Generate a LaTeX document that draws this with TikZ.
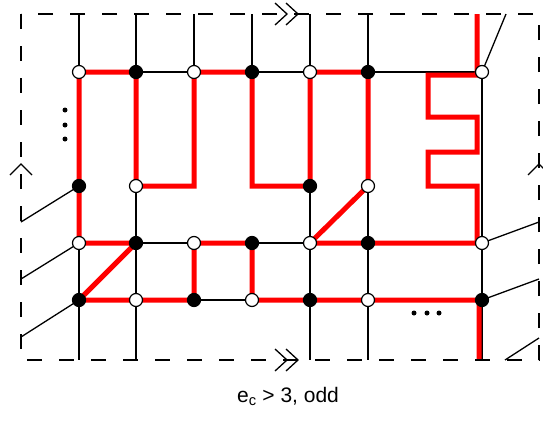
\documentclass[tikz,border=0pt]{standalone}
\usepackage{fontspec}
\setmainfont{Liberation Sans}
\usetikzlibrary{arrows.meta}
\pgfdeclarelayer{grid}
\pgfdeclarelayer{cycle}
\pgfsetlayers{grid,cycle,main}

\tikzset{
  blk/.style={circle, draw=black, fill=black, line width=1.2pt, inner sep=0pt, minimum size=13pt},
  wht/.style={blk, fill=white},
  ham/.style={red, line width=5pt, line join=miter},
  edge/.style={line width=1.3pt},
  frame/.style={dash pattern=on 15pt off 17pt}
}

\begin{document}
\begin{tikzpicture}[x=1pt, y=-1pt, line width=1.3pt]
  \useasboundingbox (0,0) rectangle (543,421);
  % toro (borde identificado)
  \draw[frame] (21,14) rectangle (539,360);
  \coordinate (top) at (0,14);
  \coordinate (bot) at (0,360);
  \draw (10,175) -- (21,164) -- (32,175);
  \draw (528,175) -- (539,164) -- (550,175);
  \draw (275,3) -- (287,14) -- (275,25);
  \draw (286,3) -- (298,14) -- (286,25);
  \draw (275,349) -- (287,360) -- (275,371);
  \draw (286,349) -- (298,360) -- (286,371);
  % vertices
  \foreach \c/\x/\sa/\sb in {1/79/wht/blk, 2/136/blk/wht, 3/194/wht/blk, 4/252/blk/wht,
                             5/310/wht/blk, 6/368/blk/wht, 7/482/wht/blk} {
    \node[\sa] (v1\c) at (\x,72) {};
    \node[\sa] (v4\c) at (\x,243) {};
    \node[\sb] (v5\c) at (\x,300) {};
  }
  \node[blk] (v31) at (79,186) {};
  \node[wht] (v32) at (136,186) {};
  \node[blk] (v35) at (310,186) {};
  \node[wht] (v36) at (368,186) {};
  % extremos libres
  \coordinate (l3) at (21,222);
  \coordinate (l4) at (21,279);
  \coordinate (l5) at (21,337);
  \coordinate (r4) at (539,222);
  \coordinate (r5) at (539,279);
  \coordinate (rb) at (539,338);
  \coordinate (bb) at (505,360);
  \coordinate (tr) at (506,14);
  % aristas
  \begin{pgfonlayer}{grid}
  \begin{scope}[edge]
    \foreach \c in {1,...,6}
      \draw (v1\c.center) -- (v1\c |- top);
    \foreach \c in {1,2,5,6,7}
      \draw (v1\c.center) -- (v1\c |- bot);
    \foreach \r in {1,4,5}
      \draw (v\r1.center) -- (v\r7.center);
    \draw (v31.center) -- (l3);
    \draw (v41.center) -- (l4);
    \draw (v51.center) -- (l5);
    \draw (v47.center) -- (r4);
    \draw (v57.center) -- (r5);
    \draw (bb) -- (rb);
    \draw (v17.center) -- (tr);
  \end{scope}
  \end{pgfonlayer}
  % ciclo hamiltoniano
  \begin{pgfonlayer}{cycle}
    \draw[ham] (477,14) -- (477,75) -- (428,75) -- (428,117) -- (477,117) -- (477,152)
      -- (428,152) -- (428,186) -- (477,186) -- (477,243) -- (v45.center) -- (v36.center)
      -- (v16.center) -- (v15.center) -- (v35.center) -- (v35 -| v14) -- (v14.center)
      -- (v13.center) -- (v32 -| v13) -- (v32.center) -- (v12.center) -- (v11.center)
      -- (v41.center) -- (v42.center) -- (v51.center) -- (v53.center) -- (v43.center)
      -- (v44.center) -- (v54.center) -- (479,300) -- (479,360);
  \end{pgfonlayer}
  % puntos suspensivos
  \foreach \y in {110,125,139}
    \fill (65,\y) circle (2.5pt);
  \foreach \x in {414,427,439}
    \fill (\x,313) circle (2.5pt);
  \node[anchor=base, font=\fontsize{21}{25}\selectfont] (cap) at (288,402) {e\textsubscript{c} > 3, odd};
\end{tikzpicture}
\end{document}
